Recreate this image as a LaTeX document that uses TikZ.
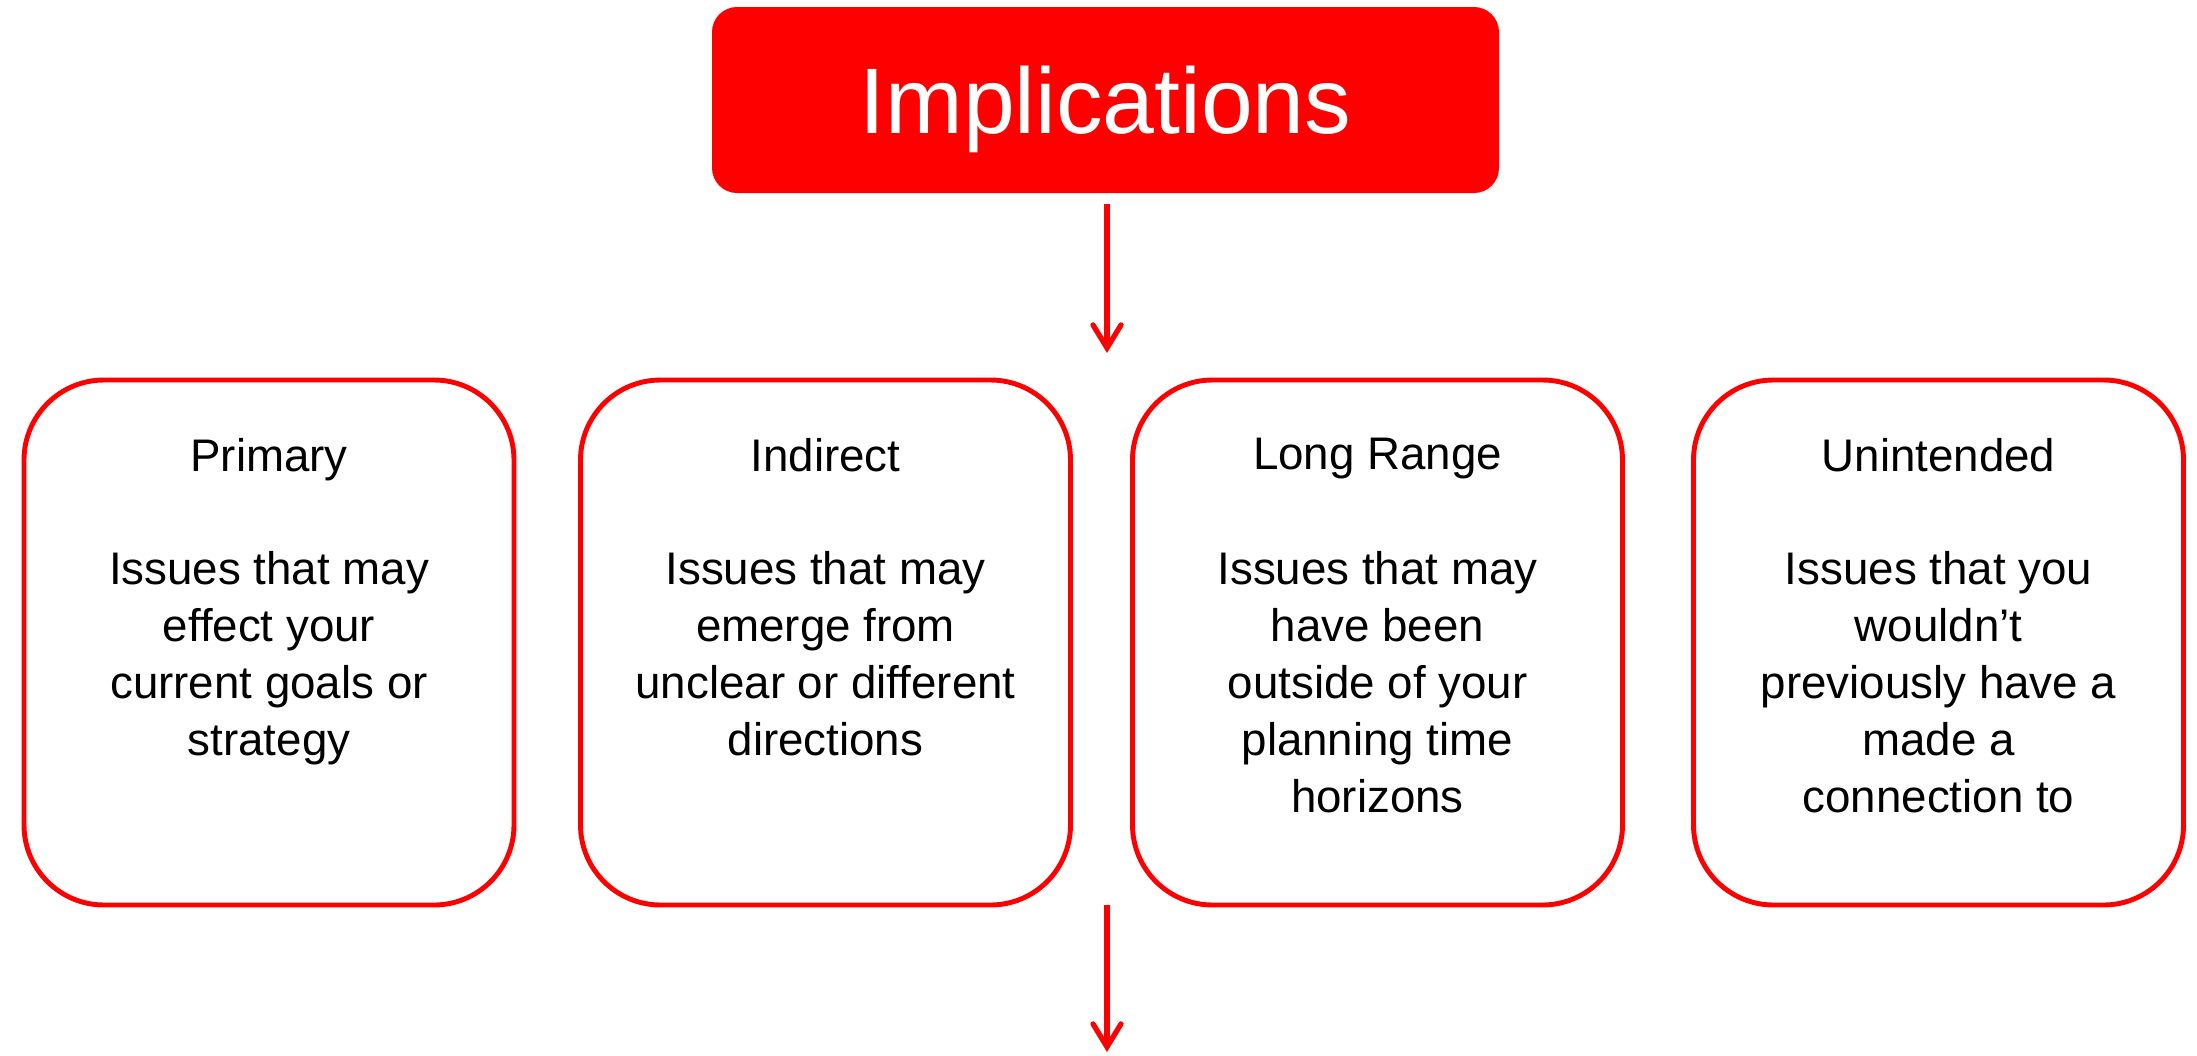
\documentclass[tikz,border=0pt]{standalone}
\usepackage{fontspec}
\setmainfont{Liberation Sans}
\usetikzlibrary{arrows.meta, positioning}

\begin{document}
\begin{tikzpicture}[
            >={Straight Barb[length=2.3mm, width=2.8mm, line cap=round]},
            banner/.style={
                fill=red, text=white, rounded corners=2.5mm,
                minimum width=7.87cm, minimum height=1.86cm,
                text depth=0pt,
                font=\fontsize{26.5}{32}\selectfont
            },
            card/.style={
                draw=red, line width=1.4pt, rounded corners=8mm,
                minimum width=4.9cm, minimum height=5.25cm
            },
            headline/.style={inner sep=0pt, font=\fontsize{13}{16}\selectfont},
            blurb/.style={inner sep=0pt, align=center, font=\fontsize{13}{16.2}\selectfont},
            red arrow/.style={->, draw=red, line width=1.5pt}
        ]
            \useasboundingbox (0,0) rectangle (21.97,10.55);

            \node[banner] (impl) at (11.055,9.55) {Implications};

            \node[card] (primary) at (2.69,4.125) {};
            \node[card] (indirect) at (8.255,4.125) {};
            \node[card] (longrange) at (13.775,4.125) {};
            \node[card] (unintended) at (19.385,4.125) {};

            \node[headline, below=0.6cm of primary.north] (primary title) {Primary};
            \node[headline, below=0.6cm of indirect.north] (indirect title) {Indirect};
            \node[headline, below=0.6cm of longrange.north] (longrange title) {Long Range};
            \node[headline, below=0.6cm of unintended.north] (unintended title) {Unintended};

            \node[blurb, below=1.73cm of primary.north] (primary text)
                {Issues that may\\effect your\\current goals or\\strategy};
            \node[blurb, below=1.73cm of indirect.north] (indirect text)
                {Issues that may\\emerge from\\unclear or different\\directions};
            \node[blurb, below=1.73cm of longrange.north] (longrange text)
                {Issues that may\\have been\\outside of your\\planning time\\horizons};
            \node[blurb, below=1.73cm of unintended.north] (unintended text)
                {Issues that you\\wouldn’t\\previously have a\\made a\\connection to};

            \coordinate (split) at (11.07,7.02);
            \coordinate (below cards) at (11.07,1.50);
            \coordinate (next) at (11.07,0.03);

            \draw[red arrow] ([yshift=-1mm]impl.south -| split) -- (split);
            \draw[red arrow] (below cards) -- (next);
        \end{tikzpicture}
\end{document}
